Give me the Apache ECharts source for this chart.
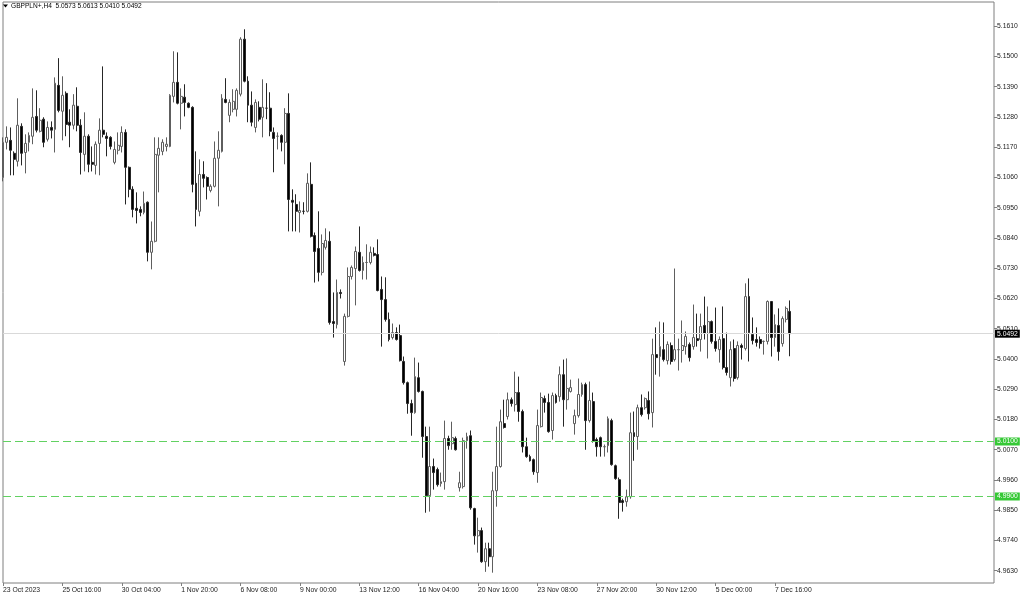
<!DOCTYPE html>
<html><head><meta charset="utf-8">
<script src="https://cdn.jsdelivr.net/npm/echarts@6/dist/echarts.min.js"></script>
<style>html,body{margin:0;padding:0;background:#fff;}#c{width:1024px;height:600px;}</style>
</head><body><div id="c"></div>
<script>
const titleText = 'GBPPLN+,H4  5.0573 5.0613 5.0410 5.0492';
const firstBarUTC = [2023, 9, 23, 0, 0];
const emptySlots = 55;
const openValues = [
5.1060,5.1188,5.1195,5.1148,5.1119,5.1246,5.1151,5.1188,5.1210,5.1282,
5.1228,5.1272,5.1199,5.1242,5.1235,5.1395,5.1301,5.1366,5.1261,5.1250,
5.1319,5.1250,5.1144,5.1210,5.1115,5.1104,5.1184,5.1232,5.1210,5.1206,
5.1115,5.1159,5.1173,5.1224,5.1097,5.1017,5.0948,5.0944,5.0933,5.0970,
5.0788,5.0828,5.1141,5.1155,5.1173,5.1173,5.1355,5.1406,5.1330,5.1352,
5.1330,5.1315,5.1039,5.0937,5.1071,5.1060,5.1013,5.1028,5.1130,5.1155,
5.1344,5.1286,5.1308,5.1308,5.1363,5.1563,5.1410,5.1323,5.1242,5.1315,
5.1279,5.1312,5.1312,5.1224,5.1210,5.1213,5.1188,5.1293,5.0977,5.0962,
5.0933,5.0937,5.0937,5.1035,5.0849,5.0802,5.0715,5.0806,5.0828,5.0536,
5.0525,5.0642,5.0391,5.0555,5.0700,5.0729,5.0788,5.0722,5.0751,5.0751,
5.0784,5.0780,5.0653,5.0616,5.0544,5.0478,5.0496,5.0485,5.0391,5.0314,5.0238,
5.0205,5.0332,5.0282,5.0118,4.9903,5.0009,4.9998,4.9947,4.9954,5.0111,
5.0092,5.0111,4.9932,4.9936,5.0103,5.0121,4.9856,4.9757,4.9776,4.9663,
4.9710,4.9681,4.9921,5.0009,5.0165,5.0191,5.0252,5.0234,5.0278,5.0209,
5.0081,5.0045,5.0034,4.9987,5.0154,5.0256,5.0242,5.0140,5.0267,5.0263,
5.0343,5.0252,5.0282,5.0165,5.0194,5.0271,5.0307,5.0176,5.0245,5.0107,
5.0114,5.0081,5.0085,5.0176,5.0012,4.9961,4.9885,4.9881,4.9899,5.0132,
5.0118,5.0223,5.0223,5.0249,5.0205,5.0416,5.0409,5.0434,5.0394,5.0449,
5.0398,5.0434,5.0431,5.0445,5.0453,5.0445,5.0474,5.0471,5.0522,5.0493,
5.0536,5.0464,5.0434,5.0474,5.0369,5.0332,5.0438,5.0332,5.0449,5.0438,
5.0627,5.0489,5.0471,5.0471,5.0464,5.0464,5.0609,5.0478,5.0522,5.0456,
5.0544,5.0573];
const closeValues = [
5.1188,5.1206,5.1159,5.1126,5.1250,5.1148,5.1184,5.1213,5.1279,5.1232,
5.1268,5.1188,5.1242,5.1232,5.1403,5.1304,5.1359,5.1253,5.1250,5.1323,
5.1250,5.1151,5.1210,5.1108,5.1108,5.1181,5.1232,5.1217,5.1202,5.1173,
5.1162,5.1177,5.1224,5.1097,5.1017,5.0944,5.0940,5.0933,5.0966,5.0788,
5.0828,5.1144,5.1166,5.1188,5.1181,5.1359,5.1406,5.1330,5.1355,5.1333,
5.1315,5.1035,5.0944,5.1071,5.1057,5.1028,5.1028,5.1130,5.1159,5.1348,
5.1333,5.1333,5.1337,5.1377,5.1563,5.1410,5.1323,5.1261,5.1333,5.1272,
5.1315,5.1312,5.1228,5.1202,5.1210,5.1188,5.1293,5.0980,5.0970,5.0937,
5.0940,5.0937,5.1039,5.0846,5.0791,5.0715,5.0820,5.0831,5.0533,5.0529,
5.0642,5.0638,5.0555,5.0700,5.0733,5.0791,5.0722,5.0751,5.0751,5.0788,
5.0777,5.0649,5.0616,5.0544,5.0471,5.0496,5.0471,5.0394,5.0314,5.0238,5.0205,
5.0336,5.0282,5.0118,4.9903,5.0009,4.9987,4.9943,4.9954,5.0111,5.0085,
5.0114,5.0070,4.9950,5.0103,5.0118,4.9859,4.9757,4.9776,4.9663,4.9710,
4.9681,4.9921,5.0009,5.0172,5.0151,5.0252,5.0238,5.0278,5.0209,5.0081,
5.0045,5.0030,4.9990,5.0158,5.0260,5.0242,5.0136,5.0267,5.0242,5.0343,
5.0252,5.0293,5.0296,5.0194,5.0271,5.0307,5.0176,5.0249,5.0100,5.0081,
5.0081,5.0081,5.0183,5.0016,4.9965,4.9878,4.9878,4.9899,5.0132,5.0118,
5.0223,5.0198,5.0256,5.0201,5.0416,5.0405,5.0445,5.0398,5.0453,5.0391,
5.0434,5.0434,5.0449,5.0482,5.0405,5.0478,5.0467,5.0518,5.0493,5.0536,
5.0464,5.0438,5.0471,5.0369,5.0351,5.0434,5.0329,5.0449,5.0442,5.0627,
5.0496,5.0467,5.0460,5.0456,5.0464,5.0609,5.0478,5.0525,5.0427,5.0547,
5.0584,5.0492];
const lowValues = [
5.1046,5.1162,5.1068,5.1068,5.1100,5.1104,5.1075,5.1155,5.1181,5.1224,
5.1224,5.1170,5.1191,5.1202,5.1151,5.1297,5.1195,5.1210,5.1170,5.1235,
5.1228,5.1071,5.1082,5.1079,5.1082,5.1071,5.1068,5.1206,5.1137,5.1162,
5.1108,5.1144,5.1151,5.0962,5.0988,5.0915,5.0893,5.0919,5.0926,5.0755,
5.0726,5.0824,5.1006,5.1141,5.1155,5.1170,5.1333,5.1326,5.1235,5.1282,
5.1312,5.1006,5.0882,5.0919,5.1024,5.0980,5.1006,5.1024,5.0955,5.1151,
5.1330,5.1261,5.1297,5.1282,5.1355,5.1406,5.1261,5.1246,5.1224,5.1264,
5.1206,5.1272,5.1210,5.1079,5.1162,5.1155,5.1108,5.0864,5.0864,5.0864,
5.0860,5.0926,5.0933,5.0842,5.0678,5.0682,5.0704,5.0798,5.0525,5.0478,
5.0511,5.0620,5.0376,5.0551,5.0689,5.0595,5.0718,5.0689,5.0689,5.0744,
5.0773,5.0646,5.0445,5.0536,5.0464,5.0471,5.0467,5.0391,5.0307,5.0201,5.0121,
5.0201,5.0278,5.0041,4.9841,4.9845,4.9925,4.9936,4.9936,4.9925,5.0070,
5.0070,5.0067,4.9918,4.9929,5.0074,4.9852,4.9725,4.9696,4.9659,4.9626,
4.9645,4.9623,4.9863,5.0005,5.0147,5.0180,5.0227,5.0209,5.0172,5.0060,
5.0041,5.0027,4.9979,4.9950,5.0151,5.0205,5.0132,5.0107,5.0238,5.0245,
5.0154,5.0216,5.0278,5.0125,5.0187,5.0263,5.0070,5.0169,5.0096,5.0045,
5.0045,5.0045,5.0060,5.0012,4.9961,4.9819,4.9845,4.9863,4.9892,5.0030,
5.0070,5.0191,5.0216,5.0180,5.0151,5.0343,5.0336,5.0391,5.0380,5.0380,
5.0391,5.0358,5.0387,5.0416,5.0391,5.0434,5.0445,5.0427,5.0471,5.0402,
5.0456,5.0427,5.0387,5.0362,5.0340,5.0300,5.0318,5.0325,5.0398,5.0431,
5.0391,5.0453,5.0445,5.0438,5.0416,5.0453,5.0409,5.0445,5.0394,5.0445,
5.0533,5.0410];
const highValues = [
5.1206,5.1246,5.1242,5.1155,5.1348,5.1257,5.1217,5.1224,5.1384,5.1377,
5.1312,5.1279,5.1264,5.1264,5.1424,5.1494,5.1428,5.1373,5.1308,5.1363,
5.1388,5.1272,5.1297,5.1217,5.1173,5.1191,5.1275,5.1464,5.1224,5.1210,
5.1191,5.1224,5.1246,5.1235,5.1100,5.1028,5.1006,5.0955,5.1009,5.0973,
5.0900,5.1206,5.1206,5.1199,5.1206,5.1363,5.1519,5.1515,5.1384,5.1399,
5.1333,5.1319,5.1155,5.1126,5.1119,5.1064,5.1035,5.1191,5.1228,5.1363,
5.1421,5.1344,5.1381,5.1384,5.1570,5.1599,5.1428,5.1373,5.1344,5.1337,
5.1417,5.1403,5.1370,5.1242,5.1224,5.1217,5.1312,5.1366,5.1017,5.0999,
5.0973,5.0970,5.1075,5.1115,5.0860,5.0937,5.0853,5.0875,5.0864,5.0642,
5.0689,5.0653,5.0565,5.0733,5.0740,5.0809,5.0882,5.0773,5.0817,5.0809,
5.0806,5.0835,5.0700,5.0697,5.0569,5.0529,5.0515,5.0525,5.0409,5.0318,5.0252,
5.0405,5.0387,5.0285,5.0154,5.0154,5.0038,5.0005,4.9987,5.0176,5.0121,
5.0172,5.0118,4.9990,5.0114,5.0132,5.0140,4.9859,4.9823,4.9787,4.9732,
4.9732,4.9990,5.0154,5.0216,5.0252,5.0278,5.0260,5.0354,5.0336,5.0216,
5.0114,5.0052,5.0038,5.0216,5.0278,5.0267,5.0274,5.0278,5.0274,5.0373,
5.0398,5.0402,5.0325,5.0216,5.0329,5.0314,5.0314,5.0318,5.0278,5.0114,
5.0118,5.0089,5.0191,5.0183,5.0016,4.9969,4.9892,4.9925,5.0205,5.0209,
5.0234,5.0271,5.0260,5.0282,5.0474,5.0515,5.0536,5.0533,5.0464,5.0460,
5.0729,5.0474,5.0540,5.0500,5.0460,5.0598,5.0565,5.0565,5.0627,5.0591,
5.0540,5.0587,5.0482,5.0591,5.0496,5.0464,5.0471,5.0464,5.0456,5.0675,
5.0693,5.0551,5.0515,5.0482,5.0467,5.0613,5.0611,5.0562,5.0584,5.0555,
5.0591,5.0613];
const yTickLabels = [4.9630,4.9740,4.9850,4.9960,5.0070,5.0180,5.0290,5.0400,5.0510,5.0620,5.0730,5.0840,5.0950,5.1060,5.1170,5.1280,5.1390,5.1500,5.1610];
const yRange = [4.958545, 5.169818];
const currentPrice = 5.0492;
const levelLines = [5.0100, 4.9900];
const MONTHS = ['Jan','Feb','Mar','Apr','May','Jun','Jul','Aug','Sep','Oct','Nov','Dec'];

// H4 session calendar: Mon-Fri every 4h plus the Sunday 20:00 bar
function barTimes(n) {
  const out = [];
  let t = Date.UTC(...firstBarUTC);
  while (out.length < n) {
    const d = new Date(t);
    const wd = d.getUTCDay();
    if ((wd >= 1 && wd <= 5) || (wd === 0 && d.getUTCHours() === 20)) out.push(d);
    t += 4 * 3600 * 1000;
  }
  return out;
}
const pad = v => String(v).padStart(2, '0');
const times = barTimes(openValues.length);
const categories = times.map((d, i) => i === 0
  ? d.getUTCDate() + ' ' + MONTHS[d.getUTCMonth()] + ' ' + d.getUTCFullYear()
  : d.getUTCDate() + ' ' + MONTHS[d.getUTCMonth()] + ' ' + pad(d.getUTCHours()) + ':' + pad(d.getUTCMinutes()));
for (let i = 0; i < emptySlots; i++) categories.push('');
const candles = openValues.map((o, i) => [o, closeValues[i], lowValues[i], highValues[i]]);

const FONT = 'Liberation Sans';
const boxLabel = (bg) => ({
  show: true, position: 'end', distance: 1,
  formatter: p => Number(p.value).toFixed(4),
  backgroundColor: bg, color: '#ffffff', padding: [1, 2, 0, 2],
  fontSize: 6.8, fontFamily: FONT
});
const showTick = (idx, val) => idx % 16 === 0 && val !== '';
const levelStyle = {color: '#62d162', type: [8, 4], width: 1};

const chart = echarts.init(document.getElementById('c'), null, {renderer: 'canvas'});
chart.setOption({
  animation: false,
  backgroundColor: '#ffffff',
  grid: {left: 1, right: 30, top: 2, bottom: 17, show: true, borderColor: '#7f7f7f', borderWidth: 1, backgroundColor: 'transparent'},
  graphic: [
    {type: 'polygon', shape: {points: [[3, 4.5], [8, 4.5], [5.5, 7.5]]}, style: {fill: '#000'}},
    {type: 'text', left: 11, top: 2.5, style: {text: titleText, fontSize: 6.6, fontFamily: FONT, fill: '#000'}}
  ],
  xAxis: {
    type: 'category', data: categories, boundaryGap: false,
    axisLine: {show: false},
    axisTick: {show: true, length: 3, interval: showTick, lineStyle: {color: '#7f7f7f'}},
    axisLabel: {interval: showTick, align: 'left', margin: 4, fontSize: 6.8, fontFamily: FONT, color: '#222', showMinLabel: true, hideOverlap: false},
    splitLine: {show: false}
  },
  yAxis: {
    type: 'value', position: 'right', min: yRange[0], max: yRange[1], scale: true,
    axisLine: {show: false},
    axisTick: {show: true, length: 3, customValues: yTickLabels, lineStyle: {color: '#7f7f7f'}},
    axisLabel: {customValues: yTickLabels, formatter: v => Number(v).toFixed(4), margin: 3, fontSize: 6.8, fontFamily: FONT, color: '#222'},
    splitLine: {show: false}
  },
  series: [{
    type: 'candlestick',
    data: candles,
    barWidth: 2.4,
    itemStyle: {color: '#ffffff', color0: '#000000', borderColor: '#5e5e5e', borderColor0: '#262626', borderWidth: 1},
    markLine: {
      symbol: ['none', 'none'], silent: true, animation: false, precision: 4,
      data: [
        {yAxis: currentPrice, lineStyle: {color: '#d9d9d9', type: 'solid', width: 1}, label: boxLabel('#000000')}
      ]
    }
  }].concat(levelLines.map(v => ({
    type: 'line', data: [], silent: true,
    markLine: {
      symbol: ['none', 'none'], silent: true, animation: false, precision: 4,
      lineStyle: levelStyle,
      data: [{yAxis: v, lineStyle: levelStyle, label: boxLabel('#36c936')}]
    }
  })))
});
</script>
</body></html>
